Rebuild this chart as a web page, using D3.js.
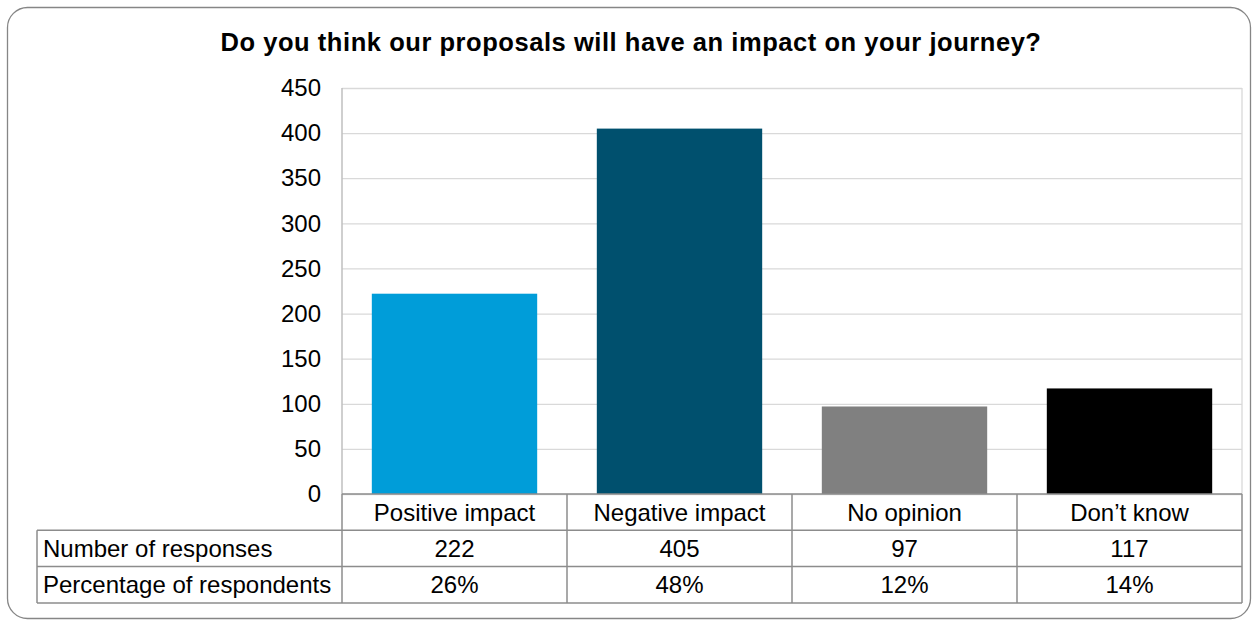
<!DOCTYPE html>
<html>
<head>
<meta charset="utf-8">
<script src="https://cdn.jsdelivr.net/npm/d3@7"></script>
<style>
body { margin: 0; background: #fff; font-family: "Liberation Sans", Arial, sans-serif; }
</style>
</head>
<body>
<div class="chart"></div>
<script>
const width = 1257
const height = 624
const margin = { top: 88, right: 15, left: 342, bottom: 130 }
const innerWidth = width - margin.left - margin.right
const innerHeight = 494 - margin.top

const title = "Do you think our proposals will have an impact on your journey?"
const categories = ["Positive impact", "Negative impact", "No opinion", "Don\u2019t know"]
const responses = [222, 405, 97, 117]
const percentages = ["26%", "48%", "12%", "14%"]
const rowLabels = ["Number of responses", "Percentage of respondents"]
const colors = ["#009dd9", "#00506e", "#808080", "#000000"]
const yTicks = [0, 50, 100, 150, 200, 250, 300, 350, 400, 450]

const svg = d3.select(".chart")
    .append("svg")
    .attr("width", width)
    .attr("height", height)

// outer rounded frame
svg.append("rect")
    .attr("x", 7.5)
    .attr("y", 7.5)
    .attr("width", 1243)
    .attr("height", 611)
    .attr("rx", 20)
    .attr("fill", "#fff")
    .attr("stroke", "#868686")
    .attr("stroke-width", 1.3)

svg.append("text")
    .attr("x", 631)
    .attr("y", 51)
    .attr("text-anchor", "middle")
    .attr("font-size", 25.5)
    .attr("font-weight", "bold")
    .attr("letter-spacing", 0.55)
    .attr("fill", "#000")
    .text(title)

const g = svg.append("g")
    .attr("transform", "translate(" + margin.left + "," + margin.top + ")")

const xScale = d3.scaleBand()
    .domain(categories)
    .range([0, innerWidth])
    .paddingInner(0.265)
    .paddingOuter(0.1325)

const colScale = d3.scaleBand()
    .domain(categories)
    .range([0, innerWidth])

const yScale = d3.scaleLinear()
    .domain([0, 450])
    .range([innerHeight, 0])

const yAxis = d3.axisLeft(yScale)
    .tickValues(yTicks)
    .tickSize(-innerWidth)
    .tickPadding(21)

g.append("g")
    .attr("class", "y-axis")
    .call(yAxis)
    .call(s => s.select(".domain").remove())
    .call(s => s.selectAll(".tick line").attr("stroke", "#d9d9d9").attr("stroke-width", 1.3))
    .call(s => s.selectAll(".tick text")
        .attr("font-size", 24)
        .attr("font-family", "Liberation Sans, Arial, sans-serif")
        .attr("fill", "#000"))

// plot edges
g.append("line")
    .attr("x1", 0).attr("x2", 0)
    .attr("y1", 0).attr("y2", innerHeight)
    .attr("stroke", "#bfbfbf").attr("stroke-width", 1.5)
g.append("line")
    .attr("x1", innerWidth).attr("x2", innerWidth)
    .attr("y1", 0).attr("y2", innerHeight)
    .attr("stroke", "#d9d9d9").attr("stroke-width", 1.3)

g.selectAll(".bar")
    .data(categories)
    .join("rect")
    .attr("class", "bar")
    .attr("x", d => xScale(d))
    .attr("width", xScale.bandwidth())
    .attr("y", (d, i) => yScale(responses[i]))
    .attr("height", (d, i) => innerHeight - yScale(responses[i]))
    .attr("fill", (d, i) => colors[i])

// data table under the axis
const rowH = 36.3
const tableLeft = 37 - margin.left
const tbl = g.append("g").attr("transform", "translate(0," + innerHeight + ")")
const lineColor = "#8c8c8c"

tbl.append("line")
    .attr("x1", 0).attr("x2", innerWidth)
    .attr("y1", 0).attr("y2", 0)
    .attr("stroke", lineColor).attr("stroke-width", 1.5)

;[1, 2, 3].forEach(r => {
    tbl.append("line")
        .attr("x1", tableLeft).attr("x2", innerWidth)
        .attr("y1", r * rowH).attr("y2", r * rowH)
        .attr("stroke", lineColor).attr("stroke-width", 1.5)
})

tbl.append("line")
    .attr("x1", tableLeft).attr("x2", tableLeft)
    .attr("y1", rowH).attr("y2", rowH * 3)
    .attr("stroke", lineColor).attr("stroke-width", 1.5)

categories.forEach(c => {
    tbl.append("line")
        .attr("x1", colScale(c)).attr("x2", colScale(c))
        .attr("y1", 0).attr("y2", rowH * 3)
        .attr("stroke", lineColor).attr("stroke-width", 1.5)
})
tbl.append("line")
    .attr("x1", innerWidth).attr("x2", innerWidth)
    .attr("y1", 0).attr("y2", rowH * 3)
    .attr("stroke", lineColor).attr("stroke-width", 1.5)

const cellText = (x, row, txt, anchor) => tbl.append("text")
    .attr("x", x)
    .attr("y", row * rowH + rowH / 2 + 8.5)
    .attr("text-anchor", anchor)
    .attr("font-size", 24)
    .attr("fill", "#000")
    .text(txt)

categories.forEach((c, i) => {
    const cx = colScale(c) + colScale.bandwidth() / 2
    cellText(cx, 0, c, "middle")
    cellText(cx, 1, responses[i], "middle")
    cellText(cx, 2, percentages[i], "middle")
})

rowLabels.forEach((l, i) => cellText(tableLeft + 6, i + 1, l, "start"))
</script>
</body>
</html>
